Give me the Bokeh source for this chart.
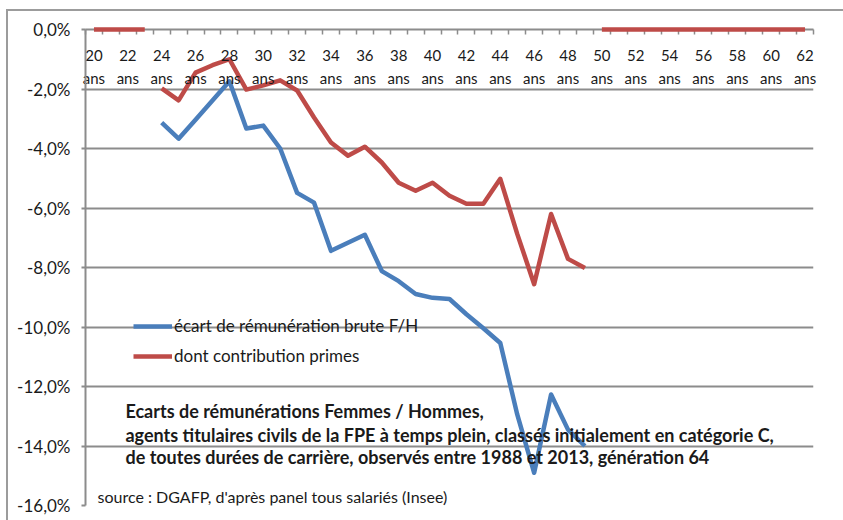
from bokeh.plotting import figure
from bokeh.models import Range1d, FixedTicker, Legend, LegendItem, Label
from bokeh.embed import file_html
from bokeh.resources import INLINE

# ---- data ----
ages_data = list(range(24, 50))
ecart_brute = [-3.13, -3.67, -3.03, -2.39, -1.74, -3.33, -3.23, -4.00, -5.49, -5.82,
               -7.44, -7.17, -6.90, -8.12, -8.46, -8.89, -9.02, -9.06, -9.57, -10.04,
               -10.54, -12.94, -14.90, -12.27, -13.45, -14.00]
contribution_primes = [-1.98, -2.38, -1.45, -1.20, -1.00, -2.02, -1.88, -1.71, -2.05, -2.96,
                       -3.80, -4.24, -3.94, -4.47, -5.15, -5.42, -5.15, -5.59, -5.86, -5.86,
                       -5.02, -6.87, -8.56, -6.20, -7.71, -8.02]
zero_ages_early = [20, 21, 22, 23]
zero_values_early = [0, 0, 0, 0]
zero_ages_late = list(range(50, 63))
zero_values_late = [0] * len(zero_ages_late)

all_ages = list(range(20, 63))
x_tick_ages = list(range(20, 63, 2))
x_tick_labels = {a: f"{a}\nans" for a in x_tick_ages}
y_ticks = [0, -2, -4, -6, -8, -10, -12, -14, -16]
y_tick_labels = {t: f"{t},0%" for t in y_ticks}

series_names = ["écart de rémunération brute F/H", "dont contribution primes"]
title_lines = [
    "Ecarts de rémunérations Femmes / Hommes,",
    "agents titulaires civils de la FPE à temps plein, classés initialement en catégorie C,",
    "de toutes durées de carrière, observés entre 1988 et 2013,  génération 64",
]
source_text = "source : DGAFP, d'après panel tous salariés (Insee)"

BLUE = "#4A7EBB"
RED = "#BE4B48"
GRAY = "#8C8C8C"
FONT = "Lato"
TXT = "#1a1a1a"

p = figure(width=843, height=520, output_backend="svg", toolbar_location=None,
           x_range=Range1d(19.5, 62.5), y_range=Range1d(-16, 0),
           x_axis_location="above", y_axis_location="left",
           min_border_left=85, min_border_right=30, min_border_top=29, min_border_bottom=15)
p.outline_line_color = None
p.background_fill_color = None
p.border_fill_color = None
p.styles = {
    "background": ("linear-gradient(#9c9c9c,#9c9c9c) 6px 9px / 2px calc(100% - 9px) no-repeat, "
                   "linear-gradient(#9c9c9c,#9c9c9c) 6px 9px / calc(100% - 6px) 2px no-repeat, "
                   "#ffffff")
}

# x axis (on top, labels below line)
xa = p.xaxis[0]
xa.ticker = FixedTicker(ticks=x_tick_ages, minor_ticks=[a - 0.5 for a in all_ages + [63]])
xa.major_label_overrides = x_tick_labels
xa.major_tick_line_color = None
xa.minor_tick_in = 5
xa.minor_tick_out = 0
xa.minor_tick_line_color = GRAY
xa.minor_tick_line_width = 1.5
xa.axis_line_color = GRAY
xa.axis_line_width = 2
xa.major_label_standoff = -63
xa.major_label_text_font = FONT
xa.major_label_text_font_size = "15px"
xa.major_label_text_color = TXT
xa.major_label_text_line_height = 1.27
p.xgrid.visible = False

# y axis
ya = p.yaxis[0]
ya.ticker = FixedTicker(ticks=y_ticks)
ya.major_label_overrides = y_tick_labels
ya.major_tick_out = 4
ya.major_tick_in = 0
ya.minor_tick_line_color = None
ya.major_tick_line_color = GRAY
ya.major_tick_line_width = 2
ya.axis_line_color = GRAY
ya.axis_line_width = 2
ya.major_label_standoff = 11
ya.major_label_text_font = FONT
ya.major_label_text_font_size = "17px"
ya.major_label_text_color = TXT
p.ygrid.grid_line_color = GRAY
p.ygrid.grid_line_width = 2

r_blue = p.line(ages_data, ecart_brute, line_color=BLUE, line_width=4.5, line_join="round")
r_red = p.line(ages_data, contribution_primes, line_color=RED, line_width=4.5, line_join="round")
p.line(zero_ages_early, zero_values_early, line_color=RED, line_width=4.5, level="overlay")
p.line(zero_ages_late, zero_values_late, line_color=RED, line_width=4.5, level="overlay")

legend = Legend(items=[LegendItem(label=series_names[0], renderers=[r_blue]),
                       LegendItem(label=series_names[1], renderers=[r_red])],
                location=(48, 139), padding=0, margin=0, spacing=9,
                glyph_width=39, glyph_height=20, label_height=20, label_standoff=2,
                border_line_color=None, background_fill_alpha=0,
                label_text_font=FONT, label_text_font_size="17px", label_text_color=TXT)
p.add_layout(legend)

title_y = [-12.84, -13.63, -14.36]
for txt, yy in zip(title_lines, title_y):
    p.add_layout(Label(x=21.86, y=yy, text=txt, text_font=FONT, text_font_style="bold",
                       text_font_size="18px", text_color=TXT, text_baseline="alphabetic"))
p.add_layout(Label(x=20.21, y=-15.7, text=source_text, text_font=FONT,
                   text_font_size="16px", text_color=TXT, text_baseline="alphabetic"))

open("out.html", "w").write(file_html(p, INLINE))
